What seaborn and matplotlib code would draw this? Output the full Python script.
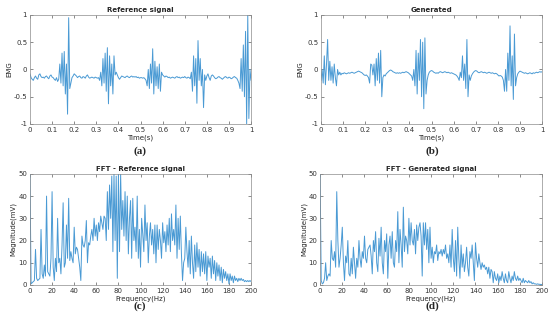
import matplotlib
matplotlib.use('Agg')
import matplotlib.pyplot as plt
import seaborn as sns
import numpy as np

# EMG signals sampled every 5 ms over 1 s
reference_emg = [
    -0.08, -0.15, -0.18, -0.2, -0.15, -0.12, -0.16, -0.18, -0.1, -0.08,
    -0.13, -0.15, -0.14, -0.16, -0.13, -0.12, -0.15, -0.17, -0.12, -0.1,
    -0.14, -0.15, -0.18, -0.2, -0.15, -0.22, -0.18, 0.1, -0.25, 0.3,
    -0.3, 0.33, -0.45, 0.1, -0.82, 0.95, -0.35, -0.25, -0.15, -0.12,
    -0.08, -0.1, -0.12, -0.15, -0.13, -0.12, -0.15, -0.16, -0.13, -0.14,
    -0.16, -0.12, -0.1, -0.14, -0.16, -0.15, -0.14, -0.15, -0.16, -0.14,
    -0.15, -0.16, -0.15, -0.2, -0.05, -0.3, 0.2, -0.25, 0.3, -0.4,
    0.4, -0.63, 0.25, -0.3, 0.1, -0.45, 0.25, -0.1, -0.05, -0.1,
    -0.15, -0.18, -0.15, -0.12, -0.13, -0.14, -0.15, -0.13, -0.12, -0.14,
    -0.15, -0.13, -0.12, -0.14, -0.13, -0.14, -0.13, -0.15, -0.14, -0.16,
    -0.15, -0.15, -0.16, -0.15, -0.17, -0.2, -0.3, 0.0, -0.35, 0.1,
    -0.25, 0.38, -0.45, 0.15, -0.3, 0.05, -0.35, 0.1, -0.4, -0.05,
    -0.1, -0.12, -0.14, -0.12, -0.13, -0.15, -0.14, -0.16, -0.15, -0.14,
    -0.15, -0.16, -0.14, -0.13, -0.15, -0.14, -0.16, -0.15, -0.14, -0.15,
    -0.13, -0.15, -0.16, -0.14, -0.15, -0.17, -0.05, -0.4, 0.25, -0.3,
    0.2, -0.62, 0.53, -0.2, 0.2, -0.3, 0.0, -0.7, -0.1, -0.2,
    -0.12, -0.08, -0.15, -0.2, -0.12, -0.1, -0.12, -0.15, -0.17, -0.16,
    -0.14, -0.13, -0.15, -0.16, -0.18, -0.16, -0.14, -0.13, -0.15, -0.16,
    -0.14, -0.15, -0.17, -0.16, -0.14, -0.13, -0.15, -0.16, -0.2, -0.25,
    -0.35, 0.2, -0.4, 0.45, -0.5, 0.7, -1.0, 1.0, -0.9, 0.0,
    -0.2,
]

generated_emg = [
    -0.2, 0.0, -0.25, 0.25, -0.28, 0.1, 0.55, -0.2, 0.15, -0.2,
    0.05, -0.25, 0.1, -0.15, -0.3, 0.0, -0.1, -0.05, -0.1, -0.07,
    -0.08, -0.06, -0.07, -0.08, -0.07, -0.06, -0.07, -0.06, -0.05, -0.06,
    -0.07, -0.06, -0.05, -0.04, -0.03, -0.04, -0.05, -0.06, -0.08, -0.1,
    -0.11, -0.1, -0.12, -0.15, -0.25, 0.1, 0.08, -0.1, 0.1, -0.3,
    0.2, -0.2, 0.3, -0.25, 0.35, -0.5, -0.15, -0.1, -0.12, -0.08,
    -0.06, -0.04, -0.02, -0.01, -0.02, -0.04, -0.05, -0.06, -0.07, -0.06,
    -0.07, -0.06, -0.07, -0.06, -0.05, -0.06, -0.05, -0.04, -0.05, -0.06,
    -0.08, -0.1, -0.12, -0.2, 0.0, -0.3, 0.35, -0.45, 0.3, -0.2,
    0.55, -0.5, 0.5, -0.72, 0.58, -0.45, -0.2, -0.1, -0.05, -0.03,
    -0.02, -0.03, -0.05, -0.06, -0.07, -0.06, -0.07, -0.05, -0.04, -0.05,
    -0.06, -0.05, -0.04, -0.05, -0.06, -0.05, -0.06, -0.07, -0.06, -0.07,
    -0.08, -0.09, -0.1, -0.12, -0.15, -0.2, -0.05, -0.15, 0.25, -0.2,
    0.1, -0.35, 0.55, -0.5, -0.1, -0.2, -0.12, -0.08, -0.05, -0.03,
    -0.02, -0.03, -0.05, -0.06, -0.05, -0.04, -0.05, -0.06, -0.05, -0.06,
    -0.07, -0.06, -0.05, -0.06, -0.07, -0.06, -0.07, -0.08, -0.07, -0.08,
    -0.1, -0.12, -0.11, -0.12, -0.14, -0.2, -0.4, 0.0, -0.4, 0.3,
    -0.2, 0.8, -0.3, 0.25, -0.55, 0.65, -0.3, -0.15, -0.08, -0.05,
    -0.03, -0.04, -0.05, -0.06, -0.07, -0.06, -0.07, -0.08, -0.07, -0.06,
    -0.07, -0.08, -0.06, -0.07, -0.06, -0.05, -0.06, -0.05, -0.04, -0.05,
    -0.04,
]

# FFT magnitudes, 1 Hz bins from 0 to 200 Hz
reference_fft = [
    50, 0.5, 1, 1.5, 2, 16, 3, 2, 2.5, 3,
    25, 5, 3, 9, 4, 40, 6, 5, 4, 12,
    42, 8, 2, 12, 6, 30, 10, 12, 5, 18,
    37, 8, 10, 27, 12, 39, 11, 15, 12, 10,
    26, 14, 17, 16, 12, 8, 2, 22, 18, 17,
    20, 29, 10, 19, 18, 22, 25, 20, 30, 22,
    27, 20, 28, 24, 31, 28, 25, 31, 30, 20,
    42, 25, 45, 30, 49, 15, 50, 20, 49, 3,
    50, 15, 50, 25, 38, 22, 42, 20, 40, 14,
    30, 38, 12, 39, 20, 26, 15, 40, 12, 25,
    8, 30, 23, 15, 36, 20, 28, 10, 22, 28,
    18, 25, 14, 27, 10, 27, 16, 25, 20, 12,
    28, 19, 24, 15, 27, 18, 30, 15, 32, 20,
    25, 18, 36, 12, 30, 16, 31, 14, 2, 10,
    12, 26, 15, 8, 20, 5, 22, 10, 3, 18,
    6, 19, 8, 16, 4, 15, 6, 14, 5, 15,
    2, 13, 8, 12, 3, 13, 5, 11, 2, 10,
    4, 9, 2, 8, 1, 7, 3, 6, 2, 5,
    0.5, 5, 2, 4, 1, 4, 2, 3, 1.5, 3,
    2, 3, 2, 2.5, 1.5, 2, 1.5, 2, 1.5, 2,
    1.5,
]

generated_fft = [
    50, 2, 0.5, 1, 3, 10, 2, 4, 5, 4,
    20, 12, 11, 15, 8, 42, 20, 8, 12, 18,
    26, 10, 2, 13, 10, 20, 5, 4, 12, 5,
    17, 10, 3, 12, 8, 20, 12, 8, 15, 12,
    22, 12, 10, 16, 17, 18, 13, 5, 20, 15,
    24, 10, 6, 21, 13, 26, 10, 5, 20, 15,
    23, 3, 18, 22, 12, 24, 10, 8, 20, 15,
    33, 10, 25, 18, 8, 35, 15, 22, 20, 14,
    30, 18, 28, 20, 18, 25, 14, 27, 20, 26,
    28, 22, 4, 28, 18, 28, 16, 25, 10, 26,
    12, 17, 10, 15, 14, 18, 11, 15, 14, 16,
    13, 16, 14, 18, 12, 14, 10, 18, 8, 25,
    12, 6, 20, 4, 26, 12, 3, 18, 8, 14,
    6, 10, 17, 8, 4, 15, 12, 18, 10, 2,
    19, 12, 8, 14, 10, 7, 10, 8, 9, 7,
    8, 5, 8, 3, 7, 6, 1, 6, 3, 2,
    5, 1, 4, 2, 6, 3, 1, 5, 2, 1,
    6, 3, 1, 4, 2, 6, 3, 2, 4, 2,
    3, 2, 1, 3, 1, 2, 1.5, 1, 2, 1,
    1.5, 0.5, 1, 0.5, 0.5, 0.3, 0.5, 0.3, 0.3, 0.2,
    0.2,
]

time_s = np.linspace(0, 1, len(reference_emg))
freq_hz = np.arange(len(reference_fft))

sns.set_style('white')
plt.rcParams['font.family'] = ['DejaVu Sans']
line_color = '#4a9ad4'
fs = 5

fig = plt.figure(figsize=(5.5, 3.22), dpi=100)

ax_a = fig.add_axes([0.0545, 0.615, 0.402, 0.3385])
ax_b = fig.add_axes([0.5836, 0.615, 0.402, 0.3385])
ax_c = fig.add_axes([0.0545, 0.115, 0.402, 0.345])
ax_d = fig.add_axes([0.582, 0.115, 0.4036, 0.345])

sns.lineplot(x=time_s, y=reference_emg, ax=ax_a, color=line_color, linewidth=0.7)
sns.lineplot(x=time_s, y=generated_emg, ax=ax_b, color=line_color, linewidth=0.7)
sns.lineplot(x=freq_hz, y=reference_fft, ax=ax_c, color=line_color, linewidth=0.7)
sns.lineplot(x=freq_hz, y=generated_fft, ax=ax_d, color=line_color, linewidth=0.7)

for ax, title in [(ax_a, 'Reference signal'), (ax_b, 'Generated')]:
    ax.set_xlim(0, 1)
    ax.set_ylim(-1, 1)
    ax.set_xticks(np.arange(0, 1.01, 0.1))
    ax.set_xticklabels(['0', '0.1', '0.2', '0.3', '0.4', '0.5', '0.6', '0.7', '0.8', '0.9', '1'])
    ax.set_yticks([-1, -0.5, 0, 0.5, 1])
    ax.set_yticklabels(['-1', '-0.5', '0', '0.5', '1'])
    ax.set_xlabel('Time(s)', fontsize=fs, labelpad=1)
    ax.set_ylabel('EMG', fontsize=fs, labelpad=1)
    ax.set_title(title, fontsize=fs, fontweight='bold', pad=2)

for ax, title in [(ax_c, 'FFT - Reference signal'), (ax_d, 'FFT - Generated signal')]:
    ax.set_xlim(0, 200)
    ax.set_ylim(0, 50)
    ax.set_xticks(np.arange(0, 201, 20))
    ax.set_yticks(np.arange(0, 51, 10))
    ax.set_xlabel('Frequency(Hz)', fontsize=fs, labelpad=1)
    ax.set_ylabel('Magnitude(mV)', fontsize=fs, labelpad=1)
    ax.set_title(title, fontsize=fs, fontweight='bold', pad=2)

for ax in [ax_a, ax_b, ax_c, ax_d]:
    ax.tick_params(direction='in', length=2, width=0.4, labelsize=fs, pad=2,
                   colors='#333333', top=True, right=True, bottom=True, left=True)
    ax.tick_params(labeltop=False, labelright=False)
    for sp in ax.spines.values():
        sp.set_color('#8c8c8c')
        sp.set_linewidth(0.5)

for label, x, y in [('(a)', 0.255, 0.531), ('(b)', 0.786, 0.531),
                    ('(c)', 0.255, 0.05), ('(d)', 0.786, 0.05)]:
    fig.text(x, y, label, ha='center', va='center', fontsize=8,
             fontweight='bold', family=['Liberation Serif', 'DejaVu Serif'])

fig.savefig('out.png', dpi=100)
